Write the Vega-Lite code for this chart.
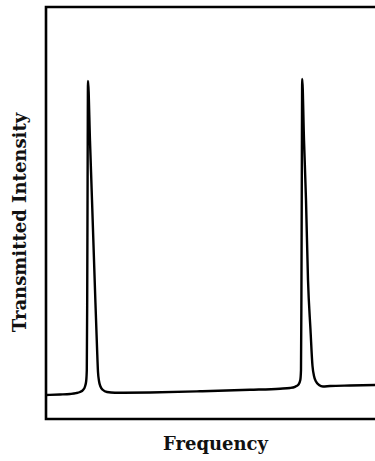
{
  "$schema": "https://vega.github.io/schema/vega-lite/v6.json",
  "width": 332,
  "height": 412,
  "autosize": {"type": "none"},
  "padding": {"left": 46, "top": 7, "right": 0, "bottom": 42},
  "background": "white",
  "config": {
    "view": {"stroke": "black", "strokeWidth": 2.6},
    "axis": {"titleFont": "DejaVu Serif", "titleFontSize": 18, "titleFontWeight": "bold", "titleColor": "#111"}
  },
  "data": {"values": [
    {"frequency": 0, "intensity": 24},
    {"frequency": 14, "intensity": 24.5},
    {"frequency": 24, "intensity": 25},
    {"frequency": 30, "intensity": 25.8},
    {"frequency": 34, "intensity": 27},
    {"frequency": 37, "intensity": 29},
    {"frequency": 39, "intensity": 32.5},
    {"frequency": 40.2, "intensity": 38},
    {"frequency": 40.8, "intensity": 49},
    {"frequency": 41.2, "intensity": 119},
    {"frequency": 41.6, "intensity": 239},
    {"frequency": 42, "intensity": 338},
    {"frequency": 44, "intensity": 278},
    {"frequency": 46, "intensity": 219},
    {"frequency": 49, "intensity": 129},
    {"frequency": 51, "intensity": 72},
    {"frequency": 52, "intensity": 47},
    {"frequency": 53, "intensity": 38},
    {"frequency": 54.5, "intensity": 32.5},
    {"frequency": 57, "intensity": 29},
    {"frequency": 61, "intensity": 27},
    {"frequency": 69, "intensity": 26.2},
    {"frequency": 104, "intensity": 26.5},
    {"frequency": 154, "intensity": 27.7},
    {"frequency": 204, "intensity": 29.2},
    {"frequency": 234, "intensity": 30.3},
    {"frequency": 244, "intensity": 31},
    {"frequency": 249, "intensity": 32.2},
    {"frequency": 252.5, "intensity": 34.5},
    {"frequency": 254.3, "intensity": 39},
    {"frequency": 255, "intensity": 49},
    {"frequency": 255.4, "intensity": 119},
    {"frequency": 255.8, "intensity": 239},
    {"frequency": 256.2, "intensity": 340},
    {"frequency": 258, "intensity": 279},
    {"frequency": 260, "intensity": 219},
    {"frequency": 262, "intensity": 139},
    {"frequency": 264.5, "intensity": 89},
    {"frequency": 266.5, "intensity": 53},
    {"frequency": 268, "intensity": 43},
    {"frequency": 270, "intensity": 37.5},
    {"frequency": 273, "intensity": 34},
    {"frequency": 277, "intensity": 32.5},
    {"frequency": 284, "intensity": 33},
    {"frequency": 304, "intensity": 33.5},
    {"frequency": 332, "intensity": 34}
  ]},
  "mark": {"type": "line", "color": "black", "strokeWidth": 2.4, "interpolate": "monotone"},
  "encoding": {
    "x": {"field": "frequency", "type": "quantitative",
      "scale": {"domain": [0, 332], "nice": false, "zero": false},
      "axis": {"title": "Frequency", "labels": false, "ticks": false, "domain": false, "grid": false, "titlePadding": 16, "titleX": 169}},
    "y": {"field": "intensity", "type": "quantitative",
      "scale": {"domain": [0, 412], "nice": false, "zero": false},
      "axis": {"title": "Transmitted Intensity", "labels": false, "ticks": false, "domain": false, "grid": false, "titlePadding": 17, "titleY": 215}}
  }
}
